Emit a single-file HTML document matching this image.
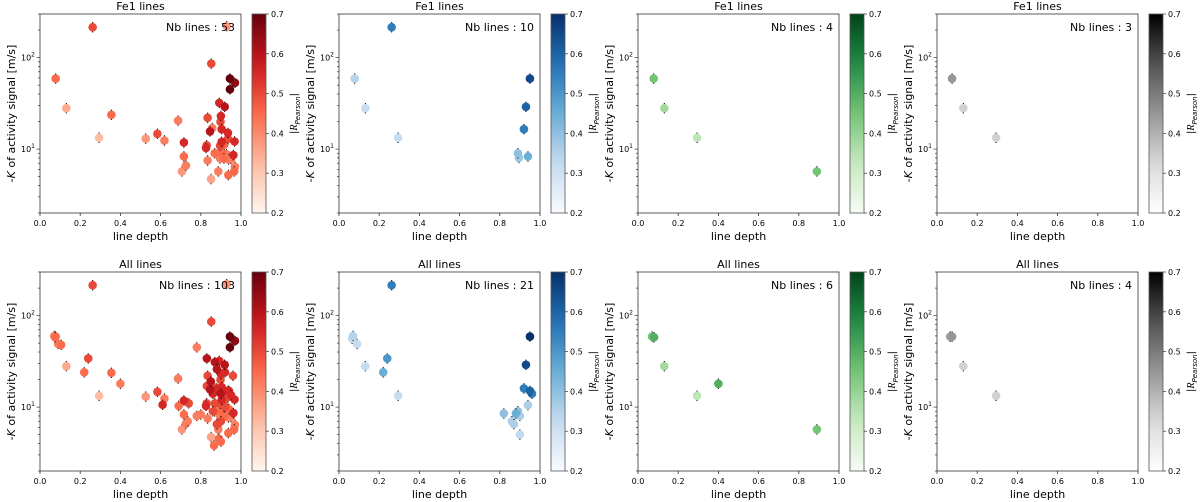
<!DOCTYPE html>
<html><head><meta charset="utf-8">
<style>
html,body{margin:0;padding:0;background:#fff;}
svg{display:block;font-family:"DejaVu Sans","Liberation Sans",sans-serif;}
</style></head>
<body>
<svg id="fig" width="1200" height="502" viewBox="0 0 1200 502" xmlns="http://www.w3.org/2000/svg"></svg>
<script>
// ---- data: [line depth, K (m/s), |R_Pearson|] ----
const fe1Red = [[0.262,215,0.5],[0.078,59,0.45],[0.131,28,0.35],[0.355,23.7,0.45],[0.294,13.3,0.32],[0.526,13,0.38],[0.584,14.7,0.5],[0.619,12.4,0.42],[0.687,20.5,0.42],[0.716,11.8,0.55],[0.716,8.3,0.45],[0.726,6.6,0.42],[0.706,5.7,0.38],[0.852,86,0.5],[0.945,59,0.7],[0.97,53,0.65],[0.945,45,0.7],[0.892,32,0.55],[0.919,29,0.6],[0.9,23,0.55],[0.898,19.9,0.5],[0.904,16.5,0.55],[0.834,22,0.5],[0.857,17,0.42],[0.846,15.6,0.6],[0.935,15,0.55],[0.935,12.9,0.5],[0.968,12.1,0.55],[0.829,11,0.5],[0.826,10.3,0.55],[0.896,10.9,0.5],[0.904,12,0.55],[0.917,11.2,0.45],[0.962,8.6,0.55],[0.869,9,0.45],[0.886,9,0.42],[0.909,9,0.45],[0.928,8.8,0.42],[0.896,7.9,0.42],[0.915,7.9,0.45],[0.938,7.7,0.42],[0.834,7.5,0.42],[0.95,7.8,0.42],[0.97,6.4,0.42],[0.966,5.7,0.45],[0.887,5.7,0.42],[0.937,5.2,0.45],[0.851,4.7,0.36],[0.929,221,0.38]];
const fe1Blue = [[0.078,59,0.35],[0.131,28,0.32],[0.262,215,0.55],[0.294,13.3,0.32],[0.95,59,0.65],[0.93,29,0.6],[0.92,16.5,0.55],[0.94,8.3,0.45],[0.89,9,0.4],[0.895,8,0.38]];
const fe1Green = [[0.078,59,0.45],[0.131,28,0.38],[0.294,13.3,0.34],[0.89,5.7,0.45]];
const fe1Grey = [[0.075,59,0.45],[0.131,28,0.34],[0.294,13.3,0.34]];
const allExtraRed = [[0.07,60,0.38],[0.075,58,0.45],[0.09,49,0.42],[0.105,48,0.45],[0.22,24,0.45],[0.24,34,0.5],[0.4,18,0.42],[0.61,10.6,0.55],[0.69,10.3,0.45],[0.74,11,0.5],[0.735,7,0.42],[0.78,45,0.42],[0.78,8,0.42],[0.8,8.3,0.42],[0.83,34,0.6],[0.87,31,0.6],[0.88,26,0.6],[0.92,24,0.55],[0.96,22,0.5],[0.85,19,0.6],[0.86,14,0.55],[0.87,11,0.5],[0.9,7,0.5],[0.88,6.5,0.5],[0.89,4.5,0.45],[0.9,4.2,0.45],[0.866,3.8,0.45],[0.94,15,0.55],[0.95,13.5,0.55],[0.83,17,0.5],[0.88,16,0.55],[0.9,14,0.6],[0.92,10,0.5],[0.86,9,0.5],[0.94,9.5,0.45]];
const allBlue = [[0.07,60,0.35],[0.065,56,0.32],[0.09,49,0.32],[0.131,28,0.32],[0.22,24,0.45],[0.24,34,0.5],[0.262,215,0.55],[0.294,13.3,0.32],[0.95,59,0.7],[0.93,29,0.65],[0.92,16,0.55],[0.95,15,0.6],[0.96,14,0.55],[0.94,10.5,0.36],[0.82,8.5,0.4],[0.86,7,0.36],[0.88,8.5,0.45],[0.89,9,0.4],[0.9,8,0.36],[0.87,6.5,0.36],[0.9,5,0.33]];
const allGreen = [[0.07,59,0.45],[0.08,58,0.5],[0.131,28,0.38],[0.294,13.3,0.34],[0.4,18,0.5],[0.89,5.7,0.45]];
const allGrey = [[0.065,59,0.42],[0.075,59,0.45],[0.131,28,0.34],[0.294,13.3,0.34]];
const nbLabels = ["53","10","4","3","103","21","6","4"];
const cbTicks = [0.2,0.3,0.4,0.5,0.6,0.7];
const xTicks = [0,0.2,0.4,0.6,0.8,1.0];

const cmaps = {
 red:["#fff5f0","#fcbba1","#fb6a4a","#cb181d","#67000d"],
 blue:["#f7fbff","#c6dbef","#6baed6","#2171b5","#08306b"],
 green:["#f7fcf5","#c7e9c0","#74c476","#238b45","#00441b"],
 grey:["#ffffff","#d9d9d9","#969696","#525252","#000000"]
};
function hex(c){return [1,3,5].map(i=>parseInt(c.substr(i,2),16));}
function cmap(name,t){t=Math.max(0,Math.min(1,t));const s=cmaps[name];const p=t*(s.length-1);const i=Math.min(Math.floor(p),s.length-2);const f=p-i;const a=hex(s[i]),b=hex(s[i+1]);return "rgb("+a.map((v,k)=>Math.round(v+(b[k]-v)*f)).join(",")+")";}

const svg=document.getElementById('fig');
const NS="http://www.w3.org/2000/svg";
function mk(tag,attrs,parent){const e=document.createElementNS(NS,tag);for(const k in attrs)e.setAttribute(k,attrs[k]);(parent||svg).appendChild(e);return e;}

const W=201,H=199,YMIN=2,YMAX=300;
const panels=[
 {data:fe1Red,cm:"red",title:"Fe1 lines"},
 {data:fe1Blue,cm:"blue",title:"Fe1 lines"},
 {data:fe1Green,cm:"green",title:"Fe1 lines"},
 {data:fe1Grey,cm:"grey",title:"Fe1 lines"},
 {data:fe1Red.concat(allExtraRed),cm:"red",title:"All lines"},
 {data:allBlue,cm:"blue",title:"All lines"},
 {data:allGreen,cm:"green",title:"All lines"},
 {data:allGrey,cm:"grey",title:"All lines"}
];

panels.forEach((p,idx)=>{
 const c=idx%4,r=Math.floor(idx/4);
 const L=40+299*c,T=14+258*r;
 const g=mk('g',{});
 
 
 const xs=v=>L+v*W;
 const ys=v=>T+H-(Math.log10(v)-Math.log10(YMIN))/(Math.log10(YMAX)-Math.log10(YMIN))*H;
 const tt=mk('text',{x:L+W/2,y:T-4,'text-anchor':'middle','font-size':11},g);tt.textContent=p.title;
 
 
 const pts=p.data.slice().sort((a,b)=>a[2]-b[2]);
 pts.forEach(d=>{
  const x=xs(d[0]),y=ys(d[1]);
  const eb=mk('line',{x1:x,x2:x,y1:ys(d[1]*1.14),y2:ys(d[1]/1.14),stroke:'#000','stroke-width':1.1},g);
  
  
  const pt=mk('circle',{cx:x,cy:y,r:4.3,fill:cmap(p.cm,(d[2]-0.2)/0.5)},g);
  
  
 });
 const fr=mk('rect',{x:L,y:T,width:W,height:H,fill:'none',stroke:'#333','stroke-width':0.8},g);
 
 
 xTicks.forEach(v=>{
  mk('line',{x1:xs(v),x2:xs(v),y1:T+H,y2:T+H+3,stroke:'#333','stroke-width':0.8},g);
  const t=mk('text',{x:xs(v),y:T+H+13,'text-anchor':'middle','font-size':8},g);t.textContent=v.toFixed(1);
  
  
 });
 const xl=mk('text',{x:L+W/2,y:T+H+27,'text-anchor':'middle','font-size':11},g);xl.textContent='line depth';
 
 
 [1,10,100].forEach(dec=>{for(let m=1;m<10;m++){const v=dec*m;if(v<YMIN||v>YMAX)continue;
  const major=m===1;mk('line',{x1:L,x2:L-(major?3.5:2),y1:ys(v),y2:ys(v),stroke:'#333','stroke-width':0.7},g);}});
 [[10,'1'],[100,'2']].forEach(([v,e])=>{
  const t=mk('text',{x:L-5,y:ys(v)+3,'text-anchor':'end','font-size':8},g);
  t.innerHTML='10<tspan dy="-4" font-size="6">'+e+'</tspan>';
  
  
 });
 const yl=mk('text',{transform:'translate('+(L-25)+','+(T+H/2)+') rotate(-90)','text-anchor':'middle','font-size':11},g);
 yl.innerHTML='-<tspan font-style="italic">K</tspan> of activity signal [m/s]';
 
 
 const nb=mk('text',{x:L+W-6,y:T+17,'text-anchor':'end','font-size':11},g);nb.textContent='Nb lines : '+nbLabels[idx];
 
 
 const CX=L+212,CW=14;
 const gid='grad'+idx;
 const defs=mk('defs',{},g);
 const lg=mk('linearGradient',{id:gid,x1:0,y1:1,x2:0,y2:0},defs);
 for(let i=0;i<=10;i++)mk('stop',{offset:i/10,'stop-color':cmap(p.cm,i/10)},lg);
 const cb=mk('rect',{x:CX,y:T,width:CW,height:H,fill:'url(#'+gid+')',stroke:'#555','stroke-width':0.8},g);
 
 
 cbTicks.forEach(v=>{
  const y=T+H-(v-0.2)/0.5*H;
  mk('line',{x1:CX+CW,x2:CX+CW+3,y1:y,y2:y,stroke:'#333','stroke-width':0.7},g);
  const t=mk('text',{x:CX+CW+5,y:y+3,'font-size':8},g);t.textContent=v.toFixed(1);
  
  
 });
 const cl=mk('text',{transform:'translate('+(CX+CW+31)+','+(T+H/2)+') rotate(-90)','text-anchor':'middle','font-size':10},g);
 cl.innerHTML='|<tspan font-style="italic" font-family="Liberation Serif,serif">R</tspan><tspan dy="3" font-size="7" font-style="italic">Pearson</tspan><tspan dy="-3">|</tspan>';
 
 
});
</script>
</body></html>
